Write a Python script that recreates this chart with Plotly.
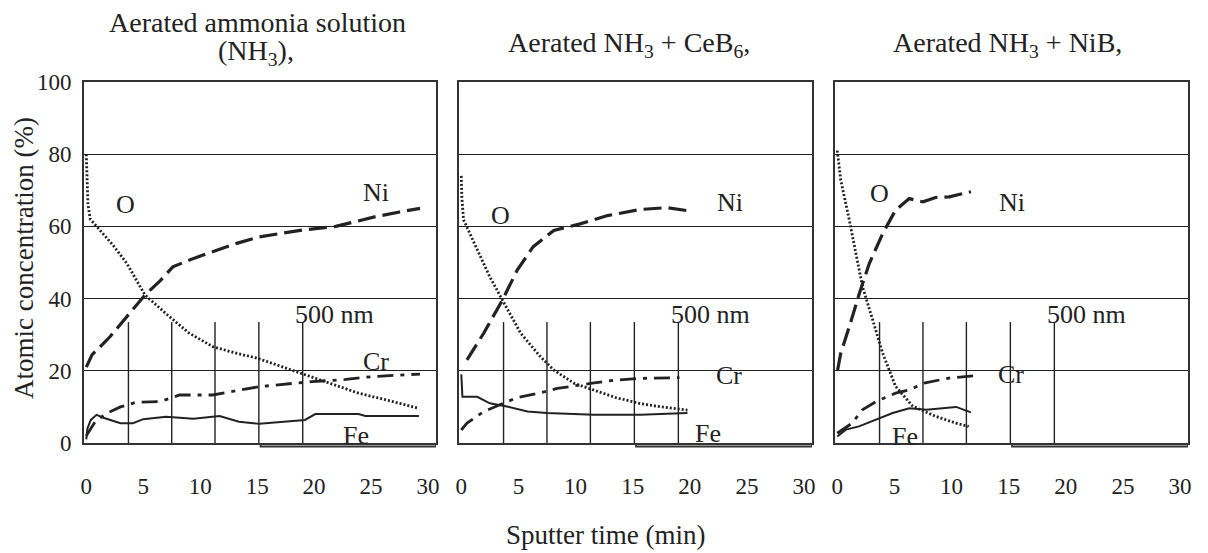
import plotly.graph_objects as go

# ---------------- data ----------------
panel_titles = ["Aerated ammonia solution", "Aerated NH<sub>3</sub> + CeB<sub>6</sub>,", "Aerated NH<sub>3</sub> + NiB,"]
panel1_title_line2 = "(NH<sub>3</sub>),"
x_title = "Sputter time (min)"
y_title = "Atomic concentration (%)"
x_ticks = [0, 5, 10, 15, 20, 25, 30]
y_ticks = [0, 20, 40, 60, 80, 100]
depth_marks_min = [3.7, 7.5, 11.3, 15.15, 19.0]   # 100 nm depth markers
depth_mark_top = 33.5
baseline_step_min = 15.3   # bottom frame steps down from here on

# Panel 1: aerated ammonia solution (NH3)
p1_o_t = [0, 0.05, 0.15, 0.35, 1.2, 2.3, 3.55, 5.15, 7.3, 9.0, 11.1, 13.0, 15.0, 17.0, 18.9, 21.5, 23.9, 26.5, 29.2]
p1_o_c = [80, 74, 66, 62, 59, 55, 49.8, 41, 35, 30.5, 26.7, 25, 23.5, 21.3, 19.3, 16.5, 13.8, 11.8, 9.6]
p1_ni_t = [0, 0.5, 2.1, 3.7, 5.15, 6.5, 7.6, 9.3, 11.1, 13.2, 15.2, 17.0, 19.0, 21.9, 23.5, 25.4, 27.5, 29.3]
p1_ni_c = [21, 24.4, 29.5, 35.4, 41, 45, 48.8, 51, 53, 55.3, 57.1, 58, 59, 60, 61.2, 62.7, 64, 65]
p1_cr_t = [0, 0.8, 1.8, 3.0, 4.4, 6.5, 8.2, 11.1, 13.4, 15.2, 18.1, 19.8, 22.8, 25.1, 29.3]
p1_cr_c = [2, 6, 8.2, 10, 11.3, 11.5, 13.3, 13.3, 14.6, 15.6, 16.5, 17.0, 17.6, 18.4, 19.1]
p1_fe_t = [0, 0.1, 0.4, 0.9, 1.5, 3.0, 4.1, 5.0, 7.0, 9.4, 11.7, 13.4, 15.2, 18.7, 19.2, 20.1, 23.9, 24.5, 29.2]
p1_fe_c = [1, 4, 6.4, 7.8, 7.0, 5.5, 5.5, 6.6, 7.3, 6.7, 7.5, 5.9, 5.3, 6.4, 6.4, 8.0, 8.0, 7.5, 7.5]

# Panel 2: aerated NH3 + CeB6
p2_o_t = [0, 0.05, 0.2, 1.4, 2.5, 3.6, 5.2, 6.9, 8.1, 9.9, 11.6, 13.5, 15.7, 17.5, 19.8]
p2_o_c = [74, 68, 61.8, 53.5, 46, 39.6, 30.4, 24, 20.2, 16.5, 14.7, 12.6, 10.9, 10, 9.1]
p2_ni_t = [0.5, 1.96, 3.6, 4.9, 6.3, 8.1, 10.4, 12.8, 15.7, 18.0, 19.9]
p2_ni_c = [23, 30.4, 39.6, 47.9, 54.4, 58.9, 60.7, 63, 64.7, 65.2, 64.3]
p2_cr_t = [0, 0.5, 1.96, 4.9, 6.9, 8.4, 11.3, 13.4, 15.7, 19.1]
p2_cr_c = [3.6, 5.5, 8.7, 12.6, 13.9, 15.1, 16.5, 17.4, 17.9, 18.1]
p2_fe_t = [0, 0.05, 0.1, 1.4, 2.5, 4.0, 5.8, 7.5, 11.6, 15.7, 19.8]
p2_fe_c = [19, 14, 12.8, 12.8, 11, 10.1, 8.7, 8.3, 7.8, 7.8, 8.3]

# Panel 3: aerated NH3 + NiB
p3_o_t = [0, 0.3, 1.05, 1.6, 2.2, 3.1, 3.97, 5.1, 6.6, 8.6, 10.4, 11.5]
p3_o_c = [81, 72.9, 61.8, 52.6, 43.4, 34.1, 24.9, 15.7, 10.2, 7.4, 5.5, 4.6]
p3_ni_t = [0.03, 0.3, 1.05, 1.93, 2.8, 3.97, 5.1, 6.3, 7.5, 8.6, 9.8, 11.7]
p3_ni_c = [20.2, 24.8, 32.2, 41.4, 49.7, 58, 64.5, 67.7, 66.8, 68, 68.2, 69.6]
p3_cr_t = [0, 1.3, 2.2, 3.4, 5.1, 6.3, 7.6, 9.8, 11.9]
p3_cr_c = [2.7, 5.5, 9.2, 11.5, 13.8, 14.7, 16.6, 18.0, 18.6]
p3_fe_t = [0, 0.75, 1.9, 3.4, 4.85, 6.3, 7.8, 9.2, 10.4, 11.7]
p3_fe_c = [1.8, 3.7, 4.6, 6.4, 8.3, 9.6, 9.2, 9.6, 10.0, 8.5]

# curve labels per panel: (text, x, y)
p1_labels = [("O", 3.4, 66), ("Ni", 25.4, 69.5), ("500 nm", 21.8, 35.5), ("Cr", 25.4, 22.7), ("Fe", 23.7, 2.0)]
p2_labels = [("O", 3.4, 63), ("Ni", 23.5, 66.5), ("500 nm", 21.8, 35.5), ("Cr", 23.4, 18.8), ("Fe", 21.6, 2.6)]
p3_labels = [("O", 3.66, 69), ("Ni", 15.3, 66.5), ("500 nm", 21.8, 35.5), ("Cr", 15.2, 19), ("Fe", 5.9, 1.8)]

# ---------------- figure ----------------
W, H = 1208, 553
OFF = 8  # page body margin: the figure is shown 8px right / 8px down
FONT = "Liberation Serif"
INK = "#222222"


def fx(sx):  # screen x pixel -> paper fraction
    return (sx - OFF) / W


def fy(sy):  # screen y pixel -> paper fraction
    return (H - (sy - OFF)) / H


panels = [
    dict(o=(p1_o_t, p1_o_c), ni=(p1_ni_t, p1_ni_c), cr=(p1_cr_t, p1_cr_c), fe=(p1_fe_t, p1_fe_c), labels=p1_labels),
    dict(o=(p2_o_t, p2_o_c), ni=(p2_ni_t, p2_ni_c), cr=(p2_cr_t, p2_cr_c), fe=(p2_fe_t, p2_fe_c), labels=p2_labels),
    dict(o=(p3_o_t, p3_o_c), ni=(p3_ni_t, p3_ni_c), cr=(p3_cr_t, p3_cr_c), fe=(p3_fe_t, p3_fe_c), labels=p3_labels),
]
x_domains_px = [(84, 436), (459, 812), (835, 1188)]
y_domain = [fy(443), fy(82)]
x_range = [-0.2, 30.7]

styles = {
    "o": dict(dash="2px,2px", width=2.8),
    "ni": dict(dash="18px,7px", width=3.2),
    "cr": dict(dash="16px,7px,4px,7px", width=2.8),
    "fe": dict(dash="solid", width=2),
}

fig = go.Figure()
layout = dict(
    width=W, height=H, margin=dict(l=0, r=0, t=0, b=0, pad=0, autoexpand=False),
    paper_bgcolor="white", plot_bgcolor="white", showlegend=False,
    font=dict(family=FONT, color=INK),
)

annotations = []
shapes = []
for i, p in enumerate(panels):
    k = "" if i == 0 else str(i + 1)
    xa, ya = "x" + k, "y" + k
    for key in ["o", "ni", "cr", "fe"]:
        t, c = p[key]
        fig.add_trace(go.Scatter(x=t, y=c, mode="lines", xaxis=xa, yaxis=ya,
                                 line=dict(color=INK, width=styles[key]["width"], dash=styles[key]["dash"]),
                                 hoverinfo="skip"))
    d0, d1 = x_domains_px[i]
    layout["xaxis" + k] = dict(
        domain=[fx(d0), fx(d1)], range=x_range, tickvals=x_ticks, showgrid=False, zeroline=False,
        showline=True, mirror=True, linecolor="#333333", linewidth=1.6, ticks="", automargin=False,
        ticklabelstandoff=22, tickfont=dict(family=FONT, size=23, color=INK), anchor=ya,
    )
    layout["yaxis" + k] = dict(
        domain=y_domain, range=[0, 100], tickvals=y_ticks, showgrid=True, gridcolor="#222222", gridwidth=1.4,
        zeroline=False, showline=True, mirror=True, linecolor="#333333", linewidth=1.6, ticks="", automargin=False,
        showticklabels=(i == 0), ticklabelstandoff=6, tickfont=dict(family=FONT, size=23, color=INK), anchor=xa,
    )
    for xm in depth_marks_min:
        shapes.append(dict(type="line", xref=xa, yref=ya, x0=xm, x1=xm, y0=0, y1=depth_mark_top,
                           line=dict(color="#222222", width=1.4)))
    # stepped bottom frame segment (drawn slightly below the axis line)
    shapes.append(dict(type="path", xref=xa, yref="paper",
                       path=f"M {baseline_step_min},{fy(443)} L {baseline_step_min},{fy(446.5)} "
                            f"L {x_range[1]},{fy(446.5)} L {x_range[1]},{fy(443)}",
                       line=dict(color="#333333", width=1.8)))
    for txt, lx, ly in p["labels"]:
        annotations.append(dict(text=txt, x=lx, y=ly, xref=xa, yref=ya, showarrow=False,
                                xanchor="center", yanchor="middle",
                                font=dict(family=FONT, size=26, color=INK)))


def paper_note(text, px, py, size=28, angle=0):
    return dict(text=text, x=fx(px), y=fy(py), xref="paper", yref="paper", showarrow=False,
                xanchor="center", yanchor="middle", textangle=angle,
                font=dict(family=FONT, size=size, color=INK))


# panel titles
annotations.append(paper_note(panel_titles[0], 257, 23))
annotations.append(paper_note(panel1_title_line2, 256, 53))
annotations.append(paper_note(panel_titles[1], 629, 44))
annotations.append(paper_note(panel_titles[2], 1007, 45))
# axis titles
annotations.append(paper_note(x_title, 605, 535, size=27))
annotations.append(paper_note(y_title, 24, 258, size=27, angle=-90))

layout["annotations"] = annotations
layout["shapes"] = shapes
fig.update_layout(**layout)
fig.write_html("out.html")
